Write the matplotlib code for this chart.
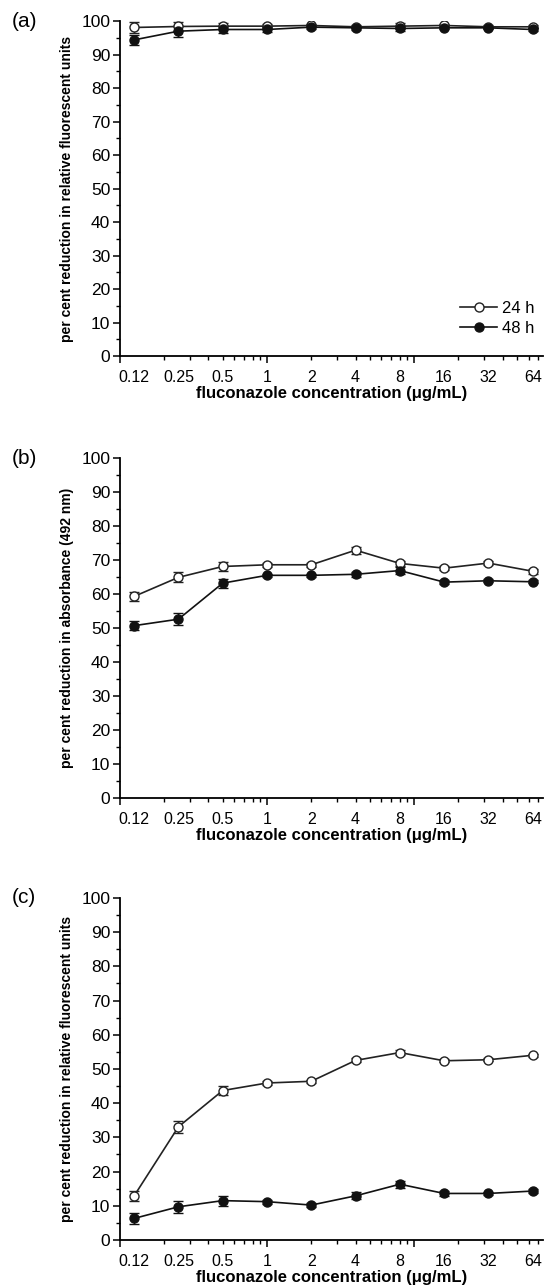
import numpy as np
import matplotlib.pyplot as plt
from matplotlib.ticker import LogLocator, NullFormatter, MultipleLocator
from matplotlib.lines import Line2D

plt.rcParams['font.family'] = ['Liberation Sans', 'DejaVu Sans']

# fluconazole concentrations (ug/mL) and their printed labels
conc = [0.125, 0.25, 0.5, 1, 2, 4, 8, 16, 32, 64]
conc_labels = ['0.12', '0.25', '0.5', '1', '2', '4', '8', '16', '32', '64']

# panel (a) relative fluorescent units
a_24 = [98.1, 98.4, 98.5, 98.5, 98.7, 98.3, 98.5, 98.7, 98.3, 98.3]
a_24_err = [1.5, 1.4, 0.8, 0.6, 0.5, 0.5, 0.8, 0.5, 0.5, 0.5]
a_48 = [94.4, 97.0, 97.5, 97.5, 98.2, 98.0, 97.8, 98.0, 98.0, 97.5]
a_48_err = [1.5, 1.6, 1.0, 0.6, 0.5, 0.6, 0.8, 0.5, 0.5, 0.5]

# panel (b) absorbance 492 nm
b_24 = [59.3, 64.9, 68.1, 68.6, 68.6, 72.9, 69.0, 67.6, 69.1, 66.7]
b_24_err = [1.3, 1.5, 1.2, 0.6, 0.6, 1.0, 0.8, 0.6, 0.7, 0.7]
b_48 = [50.7, 52.6, 63.2, 65.5, 65.5, 65.8, 66.9, 63.5, 63.9, 63.6]
b_48_err = [1.3, 1.7, 1.3, 0.5, 0.5, 0.8, 1.0, 0.5, 0.5, 0.5]

# panel (c) relative fluorescent units
c_24 = [12.9, 33.1, 43.7, 45.9, 46.4, 52.5, 54.8, 52.4, 52.7, 54.0]
c_24_err = [1.5, 1.7, 1.2, 0.7, 0.5, 0.6, 0.8, 0.5, 0.5, 0.5]
c_48 = [6.3, 9.7, 11.5, 11.2, 10.2, 12.9, 16.3, 13.6, 13.6, 14.3]
c_48_err = [1.5, 1.8, 1.5, 0.6, 0.5, 1.0, 1.0, 0.6, 0.5, 0.5]

panels = [
    ('(a)', 'per cent reduction in relative fluorescent units', a_24, a_24_err, a_48, a_48_err),
    ('(b)', 'per cent reduction in absorbance (492 nm)', b_24, b_24_err, b_48, b_48_err),
    ('(c)', 'per cent reduction in relative fluorescent units', c_24, c_24_err, c_48, c_48_err),
]

# axes boxes [left, bottom, width, height] in figure fraction
boxes = [
    [0.220, 0.7236, 0.776, 0.260],
    [0.220, 0.3804, 0.776, 0.264],
    [0.220, 0.0373, 0.776, 0.2655],
]

fig = plt.figure(figsize=(5.45, 12.88), dpi=100)

for i, (tag, ylab, y24, e24, y48, e48) in enumerate(panels):
    ax = fig.add_axes(boxes[i])
    ax.errorbar(conc, y24, yerr=e24, color='#222222', lw=1.2, marker='o', ms=6.5,
                mfc='white', mec='#222222', mew=1.0, capsize=3.5, elinewidth=1.0,
                capthick=1.0, zorder=3)
    ax.errorbar(conc, y48, yerr=e48, color='#111111', lw=1.2, marker='o', ms=6.5,
                mfc='#111111', mec='#111111', capsize=3.5, elinewidth=1.0,
                capthick=1.0, zorder=3)

    ax.set_xscale('log')
    ax.set_xlim(0.1, 75)
    ax.set_ylim(0, 100)
    ax.yaxis.set_major_locator(MultipleLocator(10))
    ax.yaxis.set_minor_locator(MultipleLocator(5))
    ax.xaxis.set_major_locator(LogLocator(base=10))
    ax.xaxis.set_minor_locator(LogLocator(base=10, subs=np.arange(2, 10)))
    ax.xaxis.set_major_formatter(NullFormatter())
    ax.xaxis.set_minor_formatter(NullFormatter())
    ax.tick_params(axis='both', which='major', direction='out', length=5, width=1.1, labelsize=12.5, pad=2)
    ax.tick_params(axis='both', which='minor', direction='out', length=3, width=1.0)
    for s in ['top', 'right']:
        ax.spines[s].set_visible(False)
    for s in ['left', 'bottom']:
        ax.spines[s].set_linewidth(1.3)

    # concentration labels under the data points
    sec = ax.secondary_xaxis('bottom')
    sec.set_xticks(conc, conc_labels)
    sec.tick_params(length=0, labelsize=11.5, pad=10)
    sec.spines['bottom'].set_visible(False)
    sec.xaxis.set_minor_locator(plt.NullLocator())
    sec.set_xlabel('fluconazole concentration (\u03bcg/mL)', fontsize=12, fontweight='bold', labelpad=1)

    ax.set_ylabel(ylab, fontsize=10, fontweight='bold', labelpad=5)
    fig.text(0.022, boxes[i][1] + boxes[i][3], tag, fontsize=15, va='center', ha='left')

    if i == 0:
        handles = [
            Line2D([], [], color='#222222', lw=1.2, marker='o', ms=6.5, mfc='white', mec='#222222'),
            Line2D([], [], color='#111111', lw=1.2, marker='o', ms=6.5, mfc='#111111', mec='#111111'),
        ]
        ax.legend(handles, ['24 h', '48 h'], loc='lower right', frameon=False, fontsize=12,
                  handlelength=2.2, handletextpad=0.3, borderaxespad=0.1, labelspacing=0.3,
                  bbox_to_anchor=(1.0, 0.035))

fig.savefig('out.png', dpi=100)
